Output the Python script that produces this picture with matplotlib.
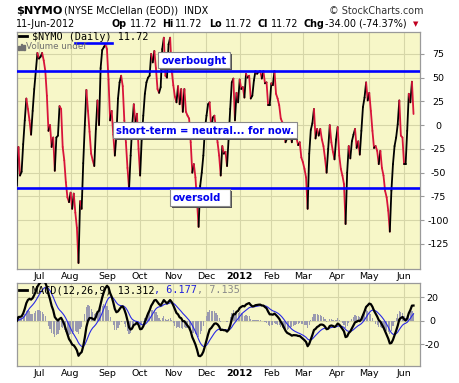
import numpy as np
import pandas as pd
import matplotlib
matplotlib.use("Agg")
import matplotlib.pyplot as plt
from matplotlib.collections import LineCollection
from matplotlib.patches import Rectangle
from matplotlib.lines import Line2D
import matplotlib.transforms as mtransforms

# ---------------- data ----------------
START_DATE = "2011-06-13"
END_DATE = "2012-06-11"
NYSE_HOLIDAYS = ["2011-07-04", "2011-09-05", "2011-11-24", "2011-12-26",
                 "2012-01-02", "2012-01-16", "2012-02-20", "2012-04-06",
                 "2012-05-28"]

nymo = [
    -64, -23, -53, -49, -20, 5, 28, 17, 5, -10,
    15, 38, 57, 76, 70, 72, 76, 68, 57, 31,
    -6, 0, -23, -13, -48, -13, -11, 20, 17, -23,
    -37, -60, -76, -81, -71, -88, -72, -92, -108, -145,
    -80, -88, -40, 0, 37, 15, -7, -30, -37, -43,
    -4, 26, 0, 60, 79, 82, 85, 80, 48, 5,
    15, -10, -32, -10, 28, 45, 52, 41, 5, -18,
    -45, -67, -32, 0, 22, 1, 12, -25, -53, -15,
    10, 33, 45, 50, 52, 75, 66, 78, 60, 38,
    34, 40, 80, 92, 52, 50, 85, 92, 57, 42,
    30, 24, 41, 22, 38, 14, 38, 14, 10, 7,
    -18, -50, -41, -55, -80, -107, -64, -50, -32, -4,
    10, 22, 24, -4, 8, 10, -4, -18, -32, -53,
    -22, -30, -28, -43, -14, 17, 45, 49, 5, 34,
    24, 48, 38, 40, 29, 54, 50, 52, 28, 31,
    47, 57, 54, 56, 57, 49, 57, 44, 45, 21,
    21, 44, 42, 57, 33, 28, 21, 7, 3, -9,
    -18, -14, -7, -11, -18, -4, -11, -14, -21, -18,
    -34, -39, -46, -55, -88, -30, -5, 2, 17, -14,
    -4, -11, -4, -15, -22, -35, -50, -25, 0, -18,
    -28, -36, -15, -2, -32, -46, -53, -62, -104, -50,
    -22, -35, -17, -10, -4, -24, -17, -31, -6, 19,
    29, 45, 26, 34, 15, -6, -24, -22, -27, -41,
    -27, -45, -53, -69, -76, -90, -112, -69, -41, -22,
    -13, 1, 26, -11, -13, -41, -41, -6, 33, 24,
    45.72, 11.72,
]

overbought_level = 57
oversold_level = -66
resistance_level = 86

main_yticks = [75, 50, 25, 0, -25, -50, -75, -100, -125]
macd_yticks = [20, 0, -20]
month_abbr = ["Jan", "Feb", "Mar", "Apr", "May", "Jun",
              "Jul", "Aug", "Sep", "Oct", "Nov", "Dec"]

macd_legend_values = ["13.312", "6.177", "7.135"]

# ---------------- derived ----------------
dates = pd.bdate_range(START_DATE, END_DATE, freq="C", holidays=NYSE_HOLIDAYS)
vals = np.array(nymo, dtype=float)
n = min(len(dates), len(vals))
dates = dates[:n]
vals = vals[:n]
xi = np.arange(n)

month_idx, month_lab = [], []
for i in range(1, n):
    if dates[i].month != dates[i - 1].month:
        month_idx.append(i)
        month_lab.append(str(dates[i].year) if dates[i].month == 1 else month_abbr[dates[i].month - 1])

s = pd.Series(vals)
ema12 = s.ewm(span=12, adjust=False).mean()
ema26 = s.ewm(span=26, adjust=False).mean()
macd = (ema12 - ema26).values
signal = pd.Series(macd).ewm(span=9, adjust=False).mean().values
hist = macd - signal

# ---------------- style ----------------
W, H = 460, 383
PANEL = "#F7F7C8"
GRID = "#D6D6A8"
BORDER = "#9A9A9A"
RED = "#D8143A"
BLUE = "#0000FF"

fig = plt.figure(figsize=(W / 100, H / 100), dpi=100)
fig.patch.set_facecolor("white")

L, R = 16.7, 420.0
MT, MB = 32.0, 268.7
KT, KB = 283.3, 366.0
ax = fig.add_axes([L / W, 1 - MB / H, (R - L) / W, (MB - MT) / H])
axm = fig.add_axes([L / W, 1 - KB / H, (R - L) / W, (KB - KT) / H])

def axfx(px):
    return (px - L) / (R - L)

def axfy(py):
    return (MB - py) / (MB - MT)

for a in (ax, axm):
    a.set_facecolor(PANEL)
    for sp in a.spines.values():
        sp.set_color(BORDER)
        sp.set_linewidth(0.9)
    a.set_xlim(-0.1, 255.1)
    a.set_xticks(month_idx)
    a.set_xticklabels(month_lab)
    a.tick_params(axis="x", length=0, pad=2.5, labelsize=6.8)
    a.yaxis.tick_right()
    a.grid(True, color=GRID, lw=0.8)
    a.set_axisbelow(True)
    for lab in a.get_xticklabels():
        if lab.get_text().isdigit():
            lab.set_fontweight("bold")

# ---- main panel ----
ax.set_ylim(-151, 98)
ax.set_yticks(main_yticks)
ax.set_yticklabels([str(v) for v in main_yticks])
ax.tick_params(axis="y", length=3, width=0.8, color=BORDER, pad=10, labelsize=6.8)
for lab in ax.get_yticklabels():
    lab.set_horizontalalignment("center")

pts = np.column_stack([xi, vals])
segs = np.stack([pts[:-1], pts[1:]], axis=1)
cols = [("black" if d >= 0 else RED) for d in np.diff(vals)]
lc = LineCollection(segs, colors=cols, linewidths=1.3, capstyle="round", joinstyle="round", zorder=3)
ax.add_collection(lc)

ax.axhline(overbought_level, color=BLUE, lw=1.9, zorder=4)
ax.axhline(oversold_level, color=BLUE, lw=1.9, zorder=4)
ax.axhline(resistance_level, xmin=axfx(75), xmax=axfx(112), color=BLUE, lw=1.9, zorder=4)

# legend text inside the panel
ax.add_line(Line2D([axfx(19), axfx(27)], [axfy(36), axfy(36)], transform=ax.transAxes,
                   color="black", lw=2, zorder=6))
ax.text(axfx(32), axfy(36.5), "$NYMO (Daily) 11.72", transform=ax.transAxes,
        family="DejaVu Sans Mono", fontsize=7.3, va="center", ha="left", zorder=6)
for k, (bx, bh) in enumerate([(18, 4), (20.5, 6), (23, 5)]):
    ax.add_patch(Rectangle((axfx(bx), axfy(50)), 1.6 / (R - L), bh / (MB - MT),
                           transform=ax.transAxes, color="#707070", zorder=6))
ax.text(axfx(26), axfy(46.5), "Volume undef", transform=ax.transAxes,
        fontsize=6.3, color="#707070", va="center", ha="left", zorder=6)

shadow_tr = mtransforms.offset_copy(ax.transAxes, fig=fig, x=1.5, y=-1.5, units="dots")

def note(x0, y0, x1, y1, tx, text):
    ax.add_patch(Rectangle((axfx(x0), axfy(y1)), axfx(x1) - axfx(x0), axfy(y0) - axfy(y1),
                           transform=shadow_tr, facecolor="#505050", edgecolor="none", zorder=7))
    ax.add_patch(Rectangle((axfx(x0), axfy(y1)), axfx(x1) - axfx(x0), axfy(y0) - axfy(y1),
                           transform=ax.transAxes, facecolor="white", edgecolor="#8A8A8A",
                           lw=0.8, zorder=8))
    ax.text(axfx(tx), axfy((y0 + y1) / 2 + 0.5), text, transform=ax.transAxes, color="#0000EE",
            fontsize=7.2, fontweight="bold", va="center", ha="left", zorder=9)

note(158.3, 52.3, 230, 68.3, 161.5, "overbought")
note(113.3, 121.7, 296.7, 138.3, 116.5, "short-term = neutral... for now.")
note(170, 189.3, 230, 206, 172.5, "oversold")

# ---- MACD panel ----
axm.set_ylim(-38.5, 32)
axm.set_yticks(macd_yticks)
axm.set_yticklabels([str(v) for v in macd_yticks])
axm.tick_params(axis="y", length=3, width=0.8, color=BORDER, pad=6, labelsize=6.8)
for lab in axm.get_yticklabels():
    lab.set_horizontalalignment("center")

axm.bar(xi, hist, width=0.75, color="#9A9AB0", zorder=2)
axm.plot(xi, signal, color="#2A2AE6", lw=0.8, zorder=3)
axm.plot(xi, macd, color="black", lw=1.6, zorder=4)

def kfy(py):
    return (KB - py) / (KB - KT)

axm.add_line(Line2D([axfx(19), axfx(27)], [kfy(290), kfy(290)], transform=axm.transAxes,
                    color="black", lw=2, zorder=6))
cw = 6.1
t1 = "MACD(12,26,9) " + macd_legend_values[0]
t2 = ", " + macd_legend_values[1]
t3 = ", " + macd_legend_values[2]
x_t = 32
for txt, colr in ((t1, "black"), (t2, "#2020DD"), (t3, "#8A8A8A")):
    axm.text(axfx(x_t), kfy(290.5), txt, transform=axm.transAxes, family="DejaVu Sans Mono",
             fontsize=7.3, color=colr, va="center", ha="left", zorder=6)
    x_t += len(txt) * cw

# ---------------- header ----------------
def ftext(x, y, s, **kw):
    fig.text(x / W, 1 - y / H, s, va="center", ha="left", **kw)

ftext(16, 10.5, "$NYMO", fontsize=8.2, fontweight="bold")
ftext(64, 10.5, "(NYSE McClellan (EOD))", fontsize=6.9)
ftext(184, 10.5, "INDX", fontsize=6.9)
ftext(329, 10.5, "\u00a9 StockCharts.com", fontsize=6.9, color="#333333")

ftext(16, 24, "11-Jun-2012", fontsize=6.9)
pieces = [(112, "Op", True), (130, "11.72", False), (162, "Hi", True), (175, "11.72", False),
          (209, "Lo", True), (225, "11.72", False), (258, "Cl", True), (271, "11.72", False),
          (304, "Chg", True), (325, "-34.00 (-74.37%)", False)]
for px, txt, bold in pieces:
    ftext(px, 24, txt, fontsize=6.9, fontweight=("bold" if bold else "normal"))
ftext(413, 24, "\u25bc", fontsize=5, color="#C00020")

fig.savefig("out.png", dpi=100, facecolor="white")
